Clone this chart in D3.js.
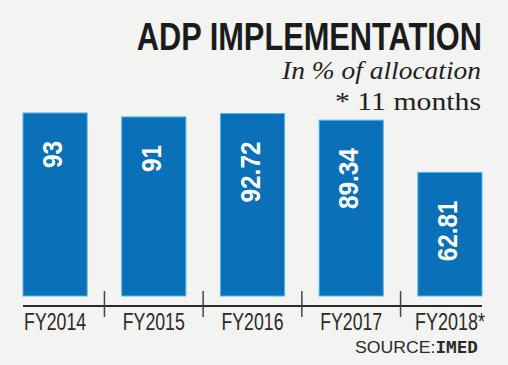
<!DOCTYPE html>
<html>
<head>
<meta charset="utf-8">
<script src="https://cdn.jsdelivr.net/npm/d3@7"></script>
<style>
  html, body { margin: 0; padding: 0; background: #f3f3f1; }
  svg { display: block; }
</style>
</head>
<body>
<svg id="chart" width="508" height="365"></svg>
<script>
const categories = ["FY2014", "FY2015", "FY2016", "FY2017", "FY2018*"];
const values = [93, 91, 92.72, 89.34, 62.81];
const valueLabels = ["93", "91", "92.72", "89.34", "62.81"];
const title = "ADP IMPLEMENTATION";
const subtitle1 = "In % of allocation";
const subtitle2 = "* 11 months";

const svg = d3.select("#chart");
const W = 508, H = 365;
svg.append("rect").attr("width", W).attr("height", H).attr("fill", "#f3f3f1");

const x = d3.scaleBand().domain(categories).range([23, 482]).paddingInner(0.35).paddingOuter(0);
const y = d3.scaleLinear().domain([0, 100]).range([296, 99.2]);

const sans = "'Liberation Sans', Arial, sans-serif";
const serif = "'Liberation Serif', 'DejaVu Serif', serif";

// Title (condensed by horizontal scale)
svg.append("text")
  .attr("transform", "translate(482,50) scale(0.81,1)")
  .attr("text-anchor", "end")
  .attr("font-family", sans).attr("font-weight", "bold")
  .attr("font-size", 38).attr("fill", "#1b1b1b")
  .text(title);

svg.append("text")
  .attr("x", 481).attr("y", 79)
  .attr("text-anchor", "end")
  .attr("font-family", serif).attr("font-style", "italic")
  .attr("font-size", 25).attr("fill", "#222")
  .attr("textLength", 199).attr("lengthAdjust", "spacingAndGlyphs")
  .text(subtitle1);

svg.append("text")
  .attr("x", 481).attr("y", 110)
  .attr("text-anchor", "end")
  .attr("font-family", serif)
  .attr("font-size", 25).attr("fill", "#222")
  .attr("textLength", 146).attr("lengthAdjust", "spacingAndGlyphs")
  .text(subtitle2);

// Bars
const data = categories.map((c, i) => ({ c, v: values[i], l: valueLabels[i] }));
svg.selectAll("rect.bar").data(data).enter().append("rect")
  .attr("class", "bar")
  .attr("x", d => x(d.c))
  .attr("y", d => y(d.v))
  .attr("width", x.bandwidth())
  .attr("height", d => y(0) - y(d.v))
  .attr("fill", "#0a70b8")
  .attr("stroke", "#52b9e6").attr("stroke-width", 1);

// Value labels (rotated, condensed)
svg.selectAll("text.val").data(data).enter().append("text")
  .attr("class", "val")
  .attr("transform", d => `translate(${x(d.c) + x.bandwidth() / 2 - 3},${y(d.v) + 28}) rotate(-90) scale(0.87,1)`)
  .attr("text-anchor", "end")
  .attr("dy", "0.36em")
  .attr("font-family", sans).attr("font-weight", "bold")
  .attr("font-size", 28).attr("fill", "#ffffff")
  .text(d => d.l);

// Axis baseline
svg.append("line")
  .attr("x1", 23).attr("x2", 482).attr("y1", 306).attr("y2", 306)
  .attr("stroke", "#2a2a2a").attr("stroke-width", 2);

// Separators between bars
const seps = categories.slice(1).map((c, i) => (x(categories[i]) + x.bandwidth() + x(c)) / 2);
svg.selectAll("line.sep").data(seps).enter().append("line")
  .attr("class", "sep")
  .attr("x1", d => d).attr("x2", d => d)
  .attr("y1", 291).attr("y2", 317)
  .attr("stroke", "#444").attr("stroke-width", 1.5);

// Category labels
svg.selectAll("text.cat").data(categories).enter().append("text")
  .attr("class", "cat")
  .attr("x", d => x(d) + x.bandwidth() / 2)
  .attr("y", 330)
  .attr("text-anchor", "middle")
  .attr("font-family", sans)
  .attr("font-size", 24).attr("fill", "#2a2a2a")
  .attr("textLength", d => d.length === 6 ? 62 : 70)
  .attr("lengthAdjust", "spacingAndGlyphs")
  .text(d => d);

// Source
const src = svg.append("text")
  .attr("x", 478).attr("y", 353)
  .attr("text-anchor", "end")
  .attr("font-family", sans)
  .attr("font-size", 16).attr("fill", "#2a2a2a")
  .attr("textLength", 123).attr("lengthAdjust", "spacingAndGlyphs");
src.append("tspan").text("SOURCE:");
src.append("tspan").attr("font-weight", "bold").attr("font-family", "'DejaVu Sans Mono', 'Liberation Mono', monospace").text("IMED");
</script>
</body>
</html>
